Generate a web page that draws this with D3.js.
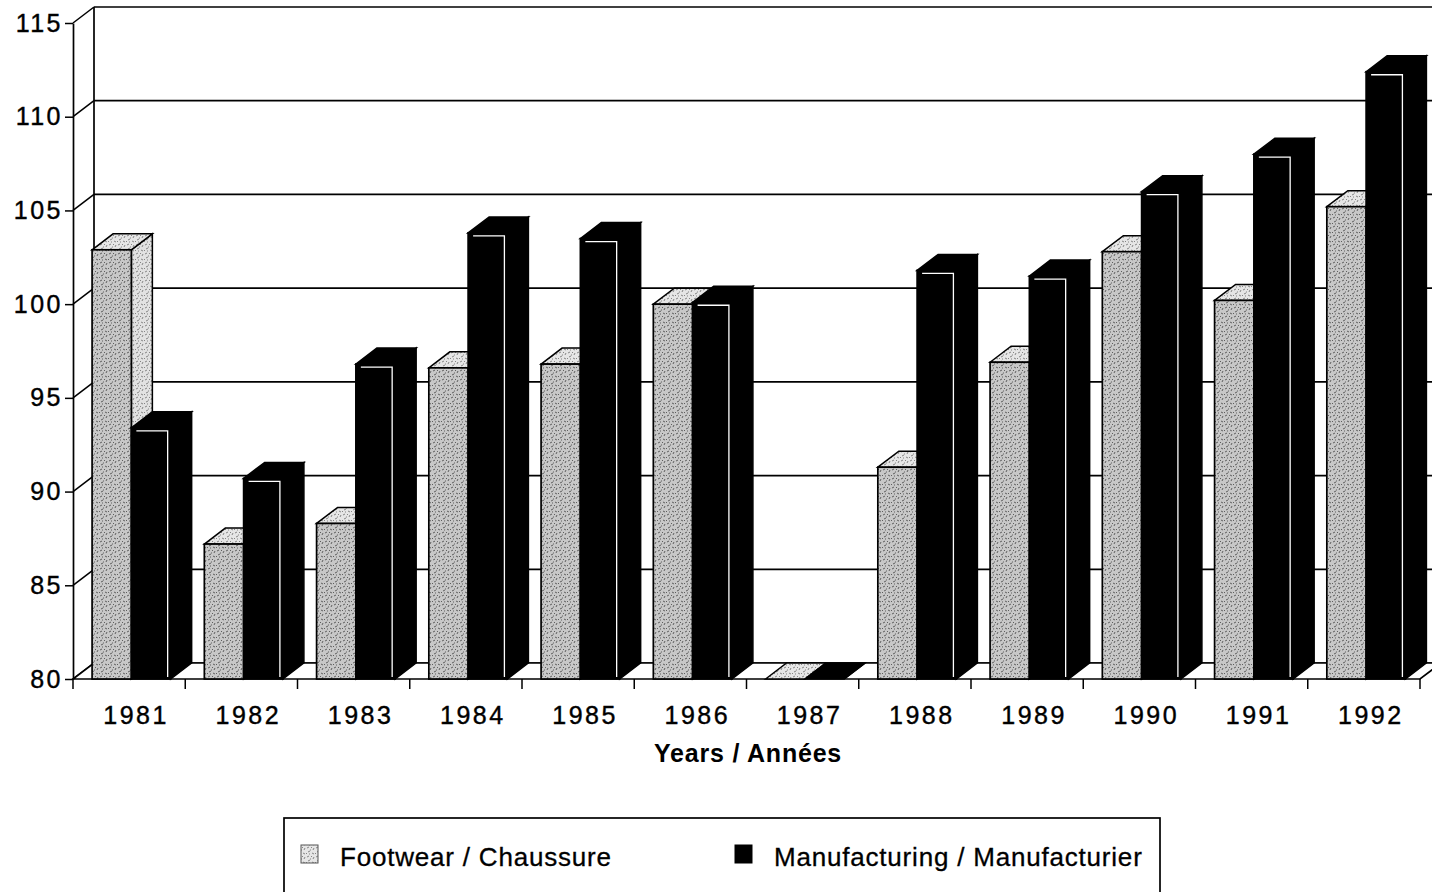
<!DOCTYPE html>
<html>
<head>
<meta charset="utf-8">
<script src="https://cdn.jsdelivr.net/npm/d3@7"></script>
<style>
  body { margin: 0; background: #fff; }
  svg { display: block; font-family: "Liberation Sans", Arial, sans-serif; }
</style>
</head>
<body>
<svg id="chart" width="1432" height="892"></svg>
<script>
// values (index, 80 at the floor)
const years = ['1981', '1982', '1983', '1984', '1985', '1986', '1987', '1988', '1989', '1990', '1991', '1992'];
const footwear = [102.9, 87.2, 88.3, 96.6, 96.8, 100.0, 80, 91.3, 96.9, 102.8, 100.2, 105.2];
const manufacturing = [93.4, 90.7, 96.8, 103.8, 103.5, 100.1, 80, 101.8, 101.5, 106.0, 108.0, 112.4];
const yTicks = [80, 85, 90, 95, 100, 105, 110, 115];
const seriesNames = ['Footwear / Chaussure', 'Manufacturing / Manufacturier'];

const width = 1432;
const plotLeft = 73, plotRight = 1420, plotTop = 23, plotBottom = 679;
const DX = 21, DY = 16; // depth of the 3d box

const svg = d3.select('#chart');

// stipple pattern for the footwear bars
const defs = svg.append('defs');
function stipple(id, bg, ink) {
  const p = defs.append('pattern').attr('id', id)
    .attr('patternUnits', 'userSpaceOnUse').attr('width', 9).attr('height', 9);
  p.append('rect').attr('width', 9).attr('height', 9).attr('fill', bg);
  p.append('path')
    .attr('d', 'M1,2 l2,-1 M5,1 l1,1 M7,4 l1,-2 M2,6 l2,-1 M6,7 l2,1 M0,8 l1,-1 M4,4 l1,0 M3,8 l1,0')
    .attr('stroke', ink).attr('stroke-width', 1).attr('fill', 'none');
}
stipple('stipFront', '#c8c8c8', '#5e5e5e');
stipple('stipSide', '#e2e2e2', '#858585');
stipple('stipTop', '#e6e6e6', '#858585');

const x = d3.scaleBand().domain(years).range([plotLeft, plotRight]);
const y = d3.scaleLinear().domain([80, 115]).range([plotBottom, plotTop]);

// back wall gridlines
svg.append('g').selectAll('line')
  .data(yTicks).join('line')
  .attr('x1', plotLeft + DX).attr('x2', width)
  .attr('y1', d => y(d) - DY).attr('y2', d => y(d) - DY)
  .attr('stroke', '#000').attr('stroke-width', 1.7);
svg.append('line')
  .attr('x1', plotLeft + DX).attr('x2', plotLeft + DX)
  .attr('y1', y(115) - DY).attr('y2', y(80) - DY)
  .attr('stroke', '#000').attr('stroke-width', 1.7);

// left wall diagonals
svg.append('g').selectAll('line')
  .data(yTicks).join('line')
  .attr('x1', plotLeft).attr('x2', plotLeft + DX)
  .attr('y1', d => y(d)).attr('y2', d => y(d) - DY)
  .attr('stroke', '#000').attr('stroke-width', 1.5);

// floor
svg.append('path')
  .attr('d', `M${plotLeft},${y(80)} L${plotRight},${y(80)} L${plotRight + DX},${y(80) - DY} L${plotLeft + DX},${y(80) - DY} Z`)
  .attr('fill', '#fff').attr('stroke', '#000').attr('stroke-width', 1.7);

// bars
const bw = x.bandwidth() * 0.35;
const off = x.bandwidth() * 0.17;

function drawBar(g, x0, v, dark) {
  const y0 = y(80), y1 = y(v), x1 = x0 + bw;
  // side
  g.append('path')
    .attr('d', `M${x1},${y1} L${x1 + DX},${y1 - DY} L${x1 + DX},${y0 - DY} L${x1},${y0} Z`)
    .attr('fill', dark ? '#000' : 'url(#stipSide)').attr('stroke', '#000').attr('stroke-width', 1.5);
  // top
  g.append('path')
    .attr('d', `M${x0},${y1} L${x0 + DX},${y1 - DY} L${x1 + DX},${y1 - DY} L${x1},${y1} Z`)
    .attr('fill', dark ? '#000' : 'url(#stipTop)').attr('stroke', '#000').attr('stroke-width', 1.5);
  // front
  g.append('rect')
    .attr('x', x0).attr('y', y1).attr('width', bw).attr('height', y0 - y1)
    .attr('fill', dark ? '#000' : 'url(#stipFront)').attr('stroke', '#000').attr('stroke-width', 1.7);
  if (dark && y0 - y1 > 6) {
    g.append('path')
      .attr('d', `M${x0 + 5},${y1 + 3} L${x1 - 3},${y1 + 3} L${x1 - 3},${y0 - 2}`)
      .attr('fill', 'none').attr('stroke', '#fff').attr('stroke-width', 1.3);
  }
}

const bars = svg.append('g');
years.forEach((yr, i) => {
  const g = bars.append('g');
  drawBar(g, x(yr) + off, footwear[i], false);
  drawBar(g, x(yr) + off + bw, manufacturing[i], true);
});

// y axis
const yAxis = svg.append('g')
  .attr('transform', `translate(${plotLeft},0)`)
  .call(d3.axisLeft(y).tickValues(yTicks).tickSize(8).tickSizeOuter(0).tickPadding(2));
yAxis.select('.domain').attr('stroke-width', 1.7);
yAxis.selectAll('.tick line').attr('stroke-width', 1.5);
yAxis.selectAll('text')
  .attr('font-size', 25).attr('fill', '#000').attr('letter-spacing', 2.5)
  .attr('stroke', '#000').attr('stroke-width', 0.4)
  .attr('font-family', '"Liberation Sans", Arial, sans-serif');

// x axis: ticks at band edges, labels under the bands
const edges = years.map(d => x(d)).concat([plotRight]);
svg.append('g').selectAll('line')
  .data(edges).join('line')
  .attr('x1', d => d).attr('x2', d => d)
  .attr('y1', y(80)).attr('y2', y(80) + 10)
  .attr('stroke', '#000').attr('stroke-width', 1.5);

svg.append('g').selectAll('text')
  .data(years).join('text')
  .attr('x', d => x(d) + x.bandwidth() / 2 + 7)
  .attr('y', 724)
  .attr('text-anchor', 'middle')
  .attr('font-size', 25).attr('letter-spacing', 2.5)
  .attr('stroke', '#000').attr('stroke-width', 0.4)
  .text(d => d);

svg.append('text')
  .attr('x', 748).attr('y', 762)
  .attr('text-anchor', 'middle')
  .attr('font-size', 25).attr('font-weight', 'bold').attr('letter-spacing', 0.8)
  .text('Years / Années');

// legend
const lg = svg.append('g');
lg.append('rect')
  .attr('x', 284).attr('y', 818).attr('width', 876).attr('height', 100)
  .attr('fill', 'none').attr('stroke', '#000').attr('stroke-width', 1.7);
const legendX = [301, 735];
seriesNames.forEach((name, i) => {
  lg.append('rect')
    .attr('x', legendX[i]).attr('y', 845).attr('width', 17).attr('height', 18)
    .attr('fill', i === 0 ? 'url(#stipTop)' : '#000')
    .attr('stroke', i === 0 ? '#555' : '#000').attr('stroke-width', 1);
  lg.append('text')
    .attr('x', legendX[i] + 39).attr('y', 866)
    .attr('font-size', 26).attr('letter-spacing', 0.8)
    .attr('stroke', '#000').attr('stroke-width', 0.3)
    .text(name);
});
</script>
</body>
</html>
